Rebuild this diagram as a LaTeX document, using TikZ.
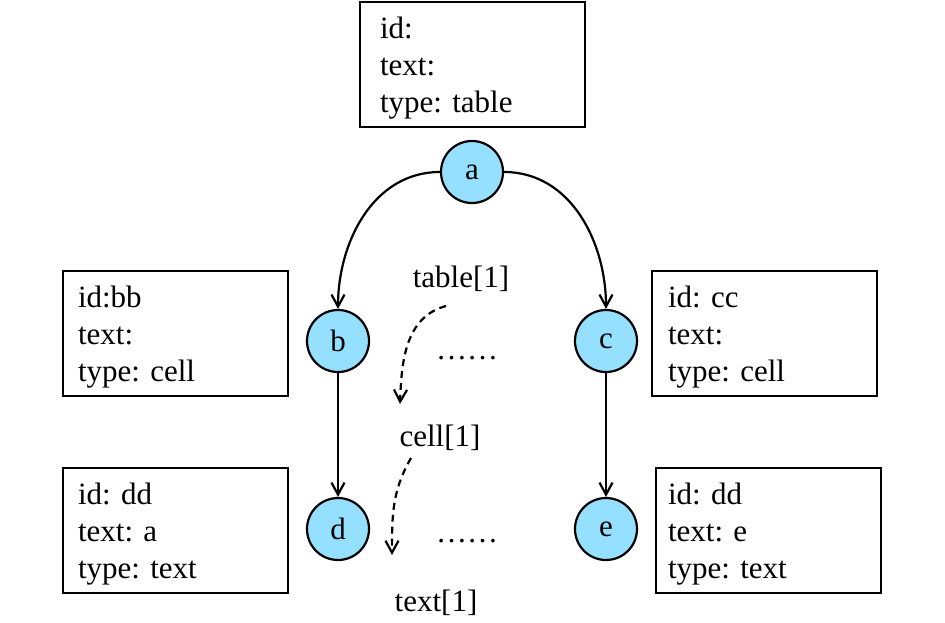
\documentclass[tikz,border=0pt]{standalone}
\usepackage{fontspec}
\setmainfont{Liberation Serif}
\usetikzlibrary{arrows.meta}
\definecolor{nodeblue}{RGB}{150,224,255}
\begin{document}
\frenchspacing
\begin{tikzpicture}[x=1pt,y=-1pt,
  every node/.style={font=\fontsize{31pt}{37pt}\selectfont},
  infobox/.style={draw,line width=2.2pt,minimum width=225pt,minimum height=125pt},
  infotext/.style={text width=189pt,align=left,inner sep=0pt,yshift=-4pt},
  vnode/.style={circle,draw,line width=2.2pt,fill=nodeblue,minimum size=62pt,inner sep=0pt},
  edge/.style={line width=2.2pt,-{Straight Barb[length=12pt,width=13pt,line width=2.2pt]}},
  dedge/.style={edge,dash pattern=on 7pt off 5pt}]
\useasboundingbox (0,0) rectangle (945,622);
\node[infobox] (ta) at (472.5,64.5) {};
\node[infobox] (tb) at (175.5,333.5) {};
\node[infobox] (tc) at (764.5,333.5) {};
\node[infobox] (td) at (175.5,530.5) {};
\node[infobox] (te) at (768.5,530.5) {};
\node[infotext] (tat) at ([xshift=2pt]ta.center) {id:\\text:\\type: table};
\node[infotext] (tbt) at ([xshift=-3pt]tb.center) {id:bb\\text:\\type: cell};
\node[infotext] (tct) at ([xshift=-2pt]tc.center) {id: cc\\text:\\type: cell};
\node[infotext] (tdt) at ([xshift=-3pt]td.center) {id: dd\\text: a\\type: text};
\node[infotext] (tet) at ([xshift=-6pt]te.center) {id: dd\\text: e\\type: text};
\node[vnode] (a) at (472,172) {a};
\node[vnode] (b) at (338,341) {b};
\node[vnode] (c) at (606,341) {c};
\node[vnode] (d) at (338,529) {d};
\node[vnode] (e) at (606,529) {e};
\draw[edge] (a.west) to[out=180,in=90] (b.north);
\draw[edge] (a.east) to[out=0,in=90] (c.north);
\draw[edge] (b) -- (d);
\draw[edge] (c) -- (e);
\node (l1) at (461,279) {table[1]};
\node (l2) at (440,438) {cell[1]};
\node (l3) at (436,603) {text[1]};
\node (dots1) at (467,358) {……};
\node (dots2) at (467,541) {……};
\coordinate (s1) at (446,306);
\coordinate (e1) at (400,404);
\coordinate (s2) at (411,458);
\coordinate (e2) at (392,555);
\draw[dedge] (s1) to[out=195,in=88] (e1);
\draw[dedge] (s2) to[out=240,in=90] (e2);
\end{tikzpicture}
\end{document}
